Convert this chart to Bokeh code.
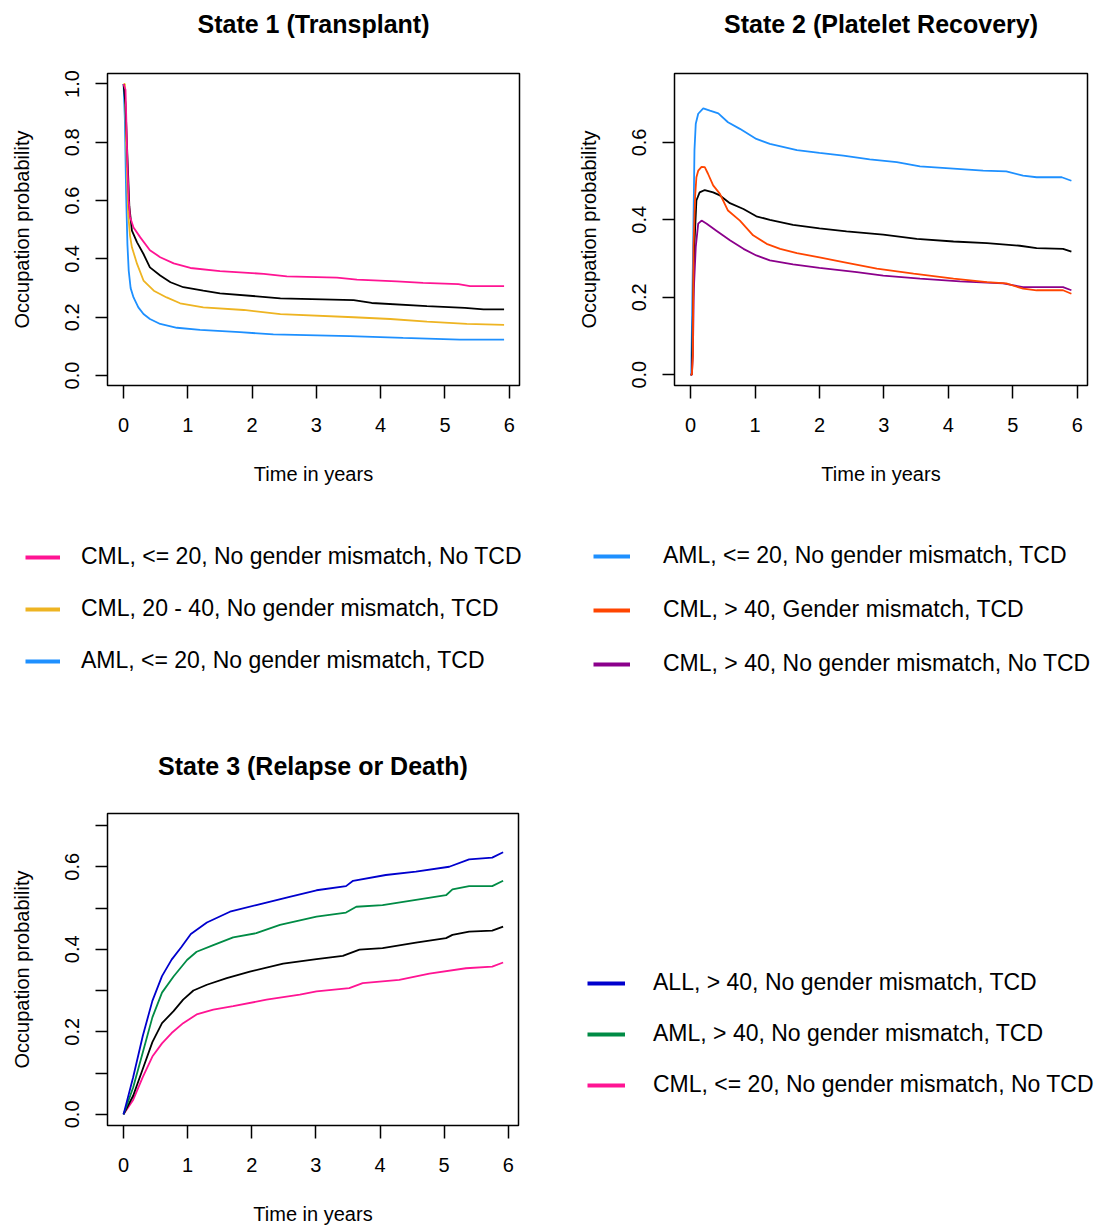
from bokeh.plotting import figure
from bokeh.layouts import column, row
from bokeh.models import FixedTicker, PrintfTickFormatter, Legend, LegendItem, LinearAxis
from bokeh.embed import file_html
from bokeh.resources import INLINE

FONT = "Liberation Sans"

# ---------------- data ----------------
x_ticks = [0, 1, 2, 3, 4, 5, 6]

# State 1 (Transplant)
s1_pink_t = [0, 0.03, 0.04, 0.06, 0.08, 0.10, 0.155, 0.26, 0.41, 0.57, 0.78, 1.04, 1.5, 2.18, 2.54, 3.32, 3.63, 4.25, 4.66, 5.21, 5.39, 5.92]
s1_pink_v = [1.0, 0.98, 0.90, 0.72, 0.60, 0.545, 0.508, 0.474, 0.43, 0.406, 0.385, 0.369, 0.358, 0.349, 0.34, 0.336, 0.329, 0.323, 0.318, 0.314, 0.307, 0.307]
s1_black_t = [0, 0.03, 0.06, 0.09, 0.13, 0.21, 0.31, 0.41, 0.57, 0.73, 0.93, 1.24, 1.5, 2.12, 2.44, 3.58, 3.86, 4.72, 5.31, 5.6, 5.92]
s1_black_v = [1.0, 0.93, 0.75, 0.58, 0.497, 0.457, 0.417, 0.371, 0.343, 0.32, 0.303, 0.291, 0.282, 0.271, 0.265, 0.259, 0.249, 0.238, 0.232, 0.227, 0.227]
s1_gold_t = [0, 0.02, 0.04, 0.07, 0.10, 0.13, 0.21, 0.31, 0.47, 0.67, 0.88, 1.24, 1.87, 2.44, 3.58, 4.15, 4.72, 5.34, 5.92]
s1_gold_v = [1.0, 1.0, 0.80, 0.56, 0.48, 0.44, 0.383, 0.326, 0.291, 0.268, 0.248, 0.234, 0.225, 0.211, 0.2, 0.194, 0.185, 0.177, 0.174]
s1_blue_t = [0, 0.02, 0.04, 0.06, 0.08, 0.11, 0.155, 0.23, 0.31, 0.41, 0.57, 0.83, 1.19, 1.81, 2.33, 3.52, 4.35, 5.23, 5.92]
s1_blue_v = [1.0, 0.88, 0.62, 0.45, 0.36, 0.30, 0.268, 0.234, 0.211, 0.194, 0.177, 0.164, 0.157, 0.149, 0.141, 0.135, 0.129, 0.123, 0.123]

# State 2 (Platelet Recovery)
s2_blue_t = [0, 0.01, 0.02, 0.04, 0.06, 0.08, 0.118, 0.196, 0.3, 0.43, 0.58, 0.765, 1.02, 1.23, 1.65, 2.0, 2.37, 2.78, 3.2, 3.56, 4.08, 4.54, 4.9, 5.16, 5.37, 5.76, 5.91]
s2_blue_v = [0.0, 0.0, 0.12, 0.34, 0.58, 0.648, 0.674, 0.688, 0.682, 0.675, 0.652, 0.635, 0.609, 0.596, 0.58, 0.573, 0.566, 0.556, 0.549, 0.538, 0.532, 0.527, 0.525, 0.514, 0.51, 0.51, 0.501]
s2_red_t = [0, 0.02, 0.035, 0.045, 0.07, 0.09, 0.118, 0.17, 0.22, 0.27, 0.35, 0.455, 0.58, 0.765, 0.97, 1.18, 1.39, 1.65, 2.0, 2.37, 2.89, 3.46, 4.08, 4.6, 4.9, 5.16, 5.37, 5.78, 5.91]
s2_red_v = [0.0, 0.0, 0.05, 0.33, 0.46, 0.51, 0.527, 0.537, 0.536, 0.519, 0.489, 0.467, 0.424, 0.398, 0.36, 0.338, 0.325, 0.314, 0.303, 0.291, 0.274, 0.261, 0.248, 0.239, 0.236, 0.222, 0.218, 0.218, 0.209]
s2_black_t = [0, 0.02, 0.04, 0.06, 0.09, 0.14, 0.22, 0.35, 0.455, 0.61, 0.82, 1.02, 1.23, 1.59, 2.0, 2.42, 2.99, 3.51, 4.08, 4.6, 5.11, 5.37, 5.78, 5.91]
s2_black_v = [0.0, 0.0, 0.2, 0.34, 0.45, 0.471, 0.477, 0.471, 0.463, 0.443, 0.428, 0.409, 0.40, 0.387, 0.378, 0.37, 0.362, 0.351, 0.344, 0.34, 0.333, 0.327, 0.325, 0.318]
s2_purple_t = [0, 0.02, 0.035, 0.05, 0.08, 0.118, 0.17, 0.25, 0.4, 0.61, 0.82, 1.02, 1.23, 1.59, 2.0, 2.58, 2.99, 3.56, 4.18, 4.85, 5.16, 5.78, 5.91]
s2_purple_v = [0.0, 0.0, 0.05, 0.22, 0.33, 0.39, 0.398, 0.39, 0.372, 0.347, 0.325, 0.308, 0.295, 0.285, 0.276, 0.265, 0.256, 0.248, 0.241, 0.236, 0.226, 0.226, 0.218]

# State 3 (Relapse or Death)
s3_blue_t = [0, 0.15, 0.3, 0.45, 0.6, 0.75, 0.9, 1.05, 1.3, 1.66, 2.07, 2.59, 3.01, 3.47, 3.58, 4.09, 4.56, 5.08, 5.39, 5.75, 5.92]
s3_blue_v = [0, 0.09, 0.19, 0.275, 0.335, 0.375, 0.405, 0.437, 0.465, 0.491, 0.507, 0.527, 0.543, 0.553, 0.566, 0.58, 0.588, 0.6, 0.618, 0.622, 0.635]
s3_green_t = [0, 0.15, 0.3, 0.45, 0.6, 0.78, 0.99, 1.14, 1.4, 1.71, 2.07, 2.44, 3.01, 3.47, 3.63, 4.04, 4.61, 5.03, 5.13, 5.39, 5.75, 5.92]
s3_green_v = [0, 0.065, 0.15, 0.235, 0.295, 0.334, 0.374, 0.394, 0.41, 0.429, 0.439, 0.459, 0.479, 0.489, 0.503, 0.507, 0.521, 0.531, 0.545, 0.553, 0.553, 0.566]
s3_black_t = [0, 0.15, 0.3, 0.45, 0.6, 0.78, 0.93, 1.09, 1.3, 1.61, 1.97, 2.49, 3.01, 3.42, 3.68, 4.04, 4.56, 5.03, 5.13, 5.39, 5.75, 5.92]
s3_black_v = [0, 0.045, 0.11, 0.175, 0.221, 0.25, 0.278, 0.3, 0.314, 0.33, 0.346, 0.365, 0.376, 0.384, 0.399, 0.403, 0.416, 0.427, 0.435, 0.443, 0.445, 0.455]
s3_pink_t = [0, 0.15, 0.3, 0.45, 0.6, 0.75, 0.93, 1.14, 1.4, 1.71, 2.23, 2.75, 3.01, 3.52, 3.73, 4.3, 4.77, 5.34, 5.75, 5.92]
s3_pink_v = [0, 0.035, 0.09, 0.14, 0.172, 0.197, 0.221, 0.242, 0.254, 0.262, 0.278, 0.29, 0.298, 0.306, 0.318, 0.326, 0.341, 0.354, 0.358, 0.368]

# titles and legend labels
titles = ["State 1 (Transplant)", "State 2 (Platelet Recovery)", "State 3 (Relapse or Death)"]
leg1_left = ["CML, <= 20, No gender mismatch, No TCD",
             "CML, 20 - 40, No gender mismatch, TCD",
             "AML, <= 20, No gender mismatch, TCD"]
leg1_right = ["AML, <= 20, No gender mismatch, TCD",
              "CML, > 40, Gender mismatch, TCD",
              "CML, > 40, No gender mismatch, No TCD"]
leg3 = ["ALL, > 40, No gender mismatch, TCD",
        "AML, > 40, No gender mismatch, TCD",
        "CML, <= 20, No gender mismatch, No TCD"]

PINK = "#FF1493"
GOLD = "#EEB422"
BLUE = "#1E90FF"
RED = "#FF4500"
PURPLE = "#8B008B"
NAVY = "#0000CD"
GREEN = "#008B45"
BLACK = "#000000"


def make_panel(title, title_gap, y_range, y_major, y_minor, width, height, bl, br, bt, bb, fw, fh):
    p = figure(width=width, height=height, x_range=(-0.25, 6.16), y_range=y_range,
               toolbar_location=None, output_backend="svg",
               min_border_left=bl, min_border_right=br, min_border_top=bt, min_border_bottom=bb,
               frame_width=fw, frame_height=fh)
    xa = p.below[0]
    ya = p.left[0]

    # panel title, drawn as the label of an empty axis above the frame
    ta = LinearAxis(ticker=FixedTicker(ticks=[]), axis_label=title)
    ta.axis_line_color = None
    ta.major_tick_out = 0
    ta.major_tick_in = 0
    ta.minor_tick_out = 0
    ta.minor_tick_in = 0
    ta.major_label_standoff = 0
    ta.axis_label_standoff = title_gap
    ta.axis_label_text_font = FONT
    ta.axis_label_text_font_size = "25px"
    ta.axis_label_text_font_style = "bold"
    ta.axis_label_text_color = "black"
    p.add_layout(ta, "above")

    p.grid.visible = False
    p.outline_line_color = "black"
    p.outline_line_width = 1.5
    p.background_fill_color = "white"
    p.border_fill_color = "white"

    xa.ticker = FixedTicker(ticks=x_ticks)
    xa.axis_label = "Time in years"
    ya.ticker = FixedTicker(ticks=y_major, minor_ticks=y_minor)
    ya.formatter = PrintfTickFormatter(format="%.1f")
    ya.axis_label = "Occupation probability"
    ya.major_label_orientation = "vertical"
    for ax in (xa, ya):
        ax.axis_line_color = None
        ax.major_tick_in = 0
        ax.major_tick_line_color = "black"
        ax.major_tick_line_width = 1.5
        ax.minor_tick_line_color = None
        ax.major_label_text_font = FONT
        ax.major_label_text_font_size = "20px"
        ax.major_label_text_color = "black"
        ax.axis_label_text_font = FONT
        ax.axis_label_text_font_size = "20px"
        ax.axis_label_text_font_style = "normal"
        ax.axis_label_text_color = "black"
    xa.major_tick_out = 13
    xa.major_label_standoff = 19
    xa.axis_label_standoff = 28
    ya.major_tick_out = 12
    ya.major_label_standoff = 16
    ya.axis_label_standoff = 30
    if y_minor:
        ya.minor_tick_in = 0
        ya.minor_tick_out = 12
        ya.minor_tick_line_color = "black"
        ya.minor_tick_line_width = 1.5
    return p


LW = 1.8

# ----- State 1 -----
p1 = make_panel(titles[0], 36, (-0.034, 1.036), [0, 0.2, 0.4, 0.6, 0.8, 1.0], [],
                560, 510, 107, 41, 73, 125, 412, 312)
p1.line(s1_blue_t, s1_blue_v, line_color=BLUE, line_width=LW)
p1.line(s1_gold_t, s1_gold_v, line_color=GOLD, line_width=LW)
p1.line(s1_black_t, s1_black_v, line_color=BLACK, line_width=LW)
p1.line(s1_pink_t, s1_pink_v, line_color=PINK, line_width=LW)

# ----- State 2 -----
p2 = make_panel(titles[1], 36, (-0.028, 0.778), [0, 0.2, 0.4, 0.6], [],
                536, 510, 114, 9, 73, 125, 413, 312)
p2.line(s2_blue_t, s2_blue_v, line_color=BLUE, line_width=LW)
p2.line(s2_black_t, s2_black_v, line_color=BLACK, line_width=LW)
p2.line(s2_purple_t, s2_purple_v, line_color=PURPLE, line_width=LW)
p2.line(s2_red_t, s2_red_v, line_color=RED, line_width=LW)


def legend_fig(width, height):
    f = figure(width=width, height=height, x_range=(100, 101), y_range=(100, 101),
               toolbar_location=None, output_backend="svg",
               x_axis_type=None, y_axis_type=None, min_border=0)
    f.outline_line_color = None
    f.grid.visible = False
    return f


def add_legend(fig, labels, series, loc, gw, standoff, spacing):
    items = []
    for lab, (t, v, col) in zip(labels, series):
        # the series is drawn outside the strip's visible range; only its legend glyph shows
        r = fig.line(t, v, line_color=col, line_width=4)
        items.append(LegendItem(label=lab, renderers=[r]))
    lg = Legend(items=items, location=loc, orientation="vertical")
    lg.glyph_width = gw
    lg.glyph_height = 26
    lg.label_height = 26
    lg.label_standoff = standoff
    lg.spacing = spacing
    lg.padding = 0
    lg.margin = 0
    lg.border_line_color = None
    lg.background_fill_alpha = 0
    lg.label_text_font = FONT
    lg.label_text_font_size = "23px"
    lg.label_text_color = "black"
    fig.add_layout(lg)


# ----- legend strip for states 1 & 2 -----
lg1 = legend_fig(1096, 190)
add_legend(lg1, leg1_left,
           [(s1_pink_t, s1_pink_v, PINK), (s1_gold_t, s1_gold_v, GOLD), (s1_blue_t, s1_blue_v, BLUE)],
           (25, 26), 35, 21, 25)
add_legend(lg1, leg1_right,
           [(s2_blue_t, s2_blue_v, BLUE), (s2_red_t, s2_red_v, RED), (s2_purple_t, s2_purple_v, PURPLE)],
           (593, 23), 37, 33, 27)

# ----- State 3 -----
p3 = make_panel(titles[2], 34, (-0.027, 0.729), [0, 0.2, 0.4, 0.6], [0.1, 0.3, 0.5, 0.7],
                560, 530, 107, 42, 113, 105, 411, 312)
p3.line(s3_pink_t, s3_pink_v, line_color=PINK, line_width=LW)
p3.line(s3_black_t, s3_black_v, line_color=BLACK, line_width=LW)
p3.line(s3_green_t, s3_green_v, line_color=GREEN, line_width=LW)
p3.line(s3_blue_t, s3_blue_v, line_color=NAVY, line_width=LW)

lg3 = legend_fig(536, 530)
add_legend(lg3, leg3,
           [(s3_blue_t, s3_blue_v, NAVY), (s3_green_t, s3_green_v, GREEN), (s3_pink_t, s3_pink_v, PINK)],
           (27, 27), 38, 28, 24)

layout = column(row(p1, p2), lg1, row(p3, lg3))

open("out.html", "w").write(file_html(layout, INLINE))
